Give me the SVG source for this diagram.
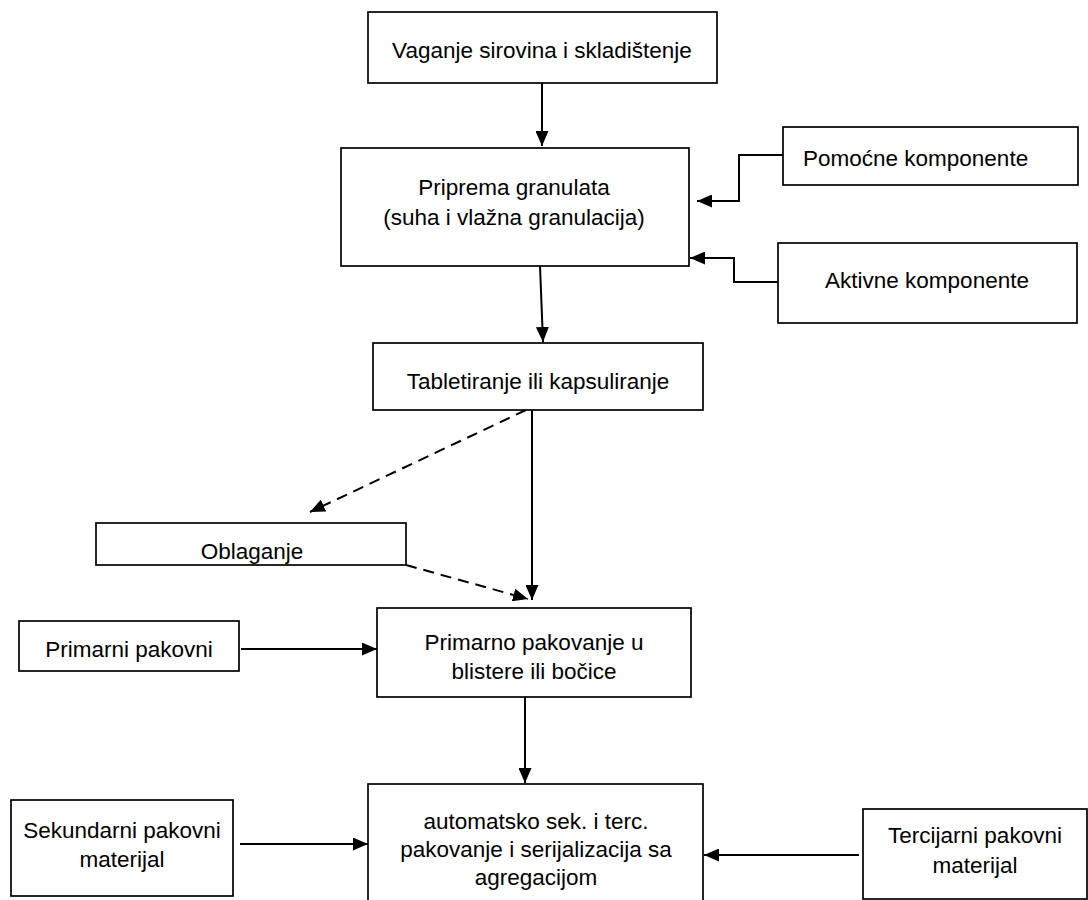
<svg xmlns="http://www.w3.org/2000/svg" width="1088" height="900" viewBox="0 0 1088 900">
<style>
.box{fill:#fff;stroke:#000;stroke-width:1.7}
.t{font-family:"Liberation Sans",Arial,sans-serif;font-size:22.5px;fill:#000;text-anchor:middle}
.c{fill:none;stroke:#000;stroke-width:2}
.d{fill:none;stroke:#000;stroke-width:2;stroke-dasharray:11,7}
</style>
<defs>
<marker id="ah" markerUnits="userSpaceOnUse" markerWidth="15" markerHeight="13" refX="15" refY="6.5" orient="auto">
<path d="M0,0 L15,6.5 L0,13 z" fill="#000"/>
</marker>
</defs>
<rect width="1088" height="900" fill="#fff"/>
<g id="n1"><rect class="box" x="368" y="12" width="349" height="71"/><text class="t" x="542" y="58">Vaganje sirovina i skladištenje</text></g>
<g id="n2"><rect class="box" x="341" y="148" width="348" height="118"/><text class="t" x="514" y="195">Priprema granulata</text><text class="t" x="514" y="225">(suha i vlažna granulacija)</text></g>
<g id="n3"><rect class="box" x="783" y="127" width="295" height="58"/><text class="t" x="803" y="166" style="text-anchor:start">Pomoćne komponente</text></g>
<g id="n4"><rect class="box" x="778" y="243" width="299" height="80"/><text class="t" x="927" y="288">Aktivne komponente</text></g>
<g id="n5"><rect class="box" x="373" y="343" width="330" height="67"/><text class="t" x="538" y="389">Tabletiranje ili kapsuliranje</text></g>
<g id="n6"><rect class="box" x="96" y="523" width="310" height="42"/><text class="t" x="252" y="559">Oblaganje</text></g>
<g id="n7"><rect class="box" x="19" y="621" width="220" height="50"/><text class="t" x="129" y="657">Primarni pakovni</text></g>
<g id="n8"><rect class="box" x="377" y="608" width="314" height="89"/><text class="t" x="534" y="650">Primarno pakovanje u</text><text class="t" x="534" y="679">blistere ili bočice</text></g>
<g id="n9"><rect class="box" x="11" y="800" width="222" height="96"/><text class="t" x="122" y="838">Sekundarni pakovni</text><text class="t" x="122" y="867">materijal</text></g>
<g id="n10"><rect class="box" x="368" y="784" width="335" height="130"/><text class="t" x="536" y="829">automatsko sek. i terc.</text><text class="t" x="536" y="857">pakovanje i serijalizacija sa</text><text class="t" x="536" y="885">agregacijom</text></g>
<g id="n11"><rect class="box" x="863" y="809" width="224" height="90"/><text class="t" x="975" y="843">Tercijarni pakovni</text><text class="t" x="975" y="873">materijal</text></g>
<g id="connectors">
<path class="c" d="M542,83 L542,146" marker-end="url(#ah)"/>
<path class="c" d="M783,155 L739,155 L739,201 L697,201" marker-end="url(#ah)"/>
<path class="c" d="M778,282 L734,282 L734,258 L690,258" marker-end="url(#ah)"/>
<path class="c" d="M540,266 L543,342" marker-end="url(#ah)"/>
<path class="c" d="M532,410 L532,600" marker-end="url(#ah)"/>
<path class="d" d="M526,410 L310,512" marker-end="url(#ah)"/>
<path class="d" d="M406,565 L528,599" marker-end="url(#ah)"/>
<path class="c" d="M241,649 L377,649" marker-end="url(#ah)"/>
<path class="c" d="M525,697 L525,783" marker-end="url(#ah)"/>
<path class="c" d="M240,844 L368,844" marker-end="url(#ah)"/>
<path class="c" d="M859,855 L704,855" marker-end="url(#ah)"/>
</g>
</svg>
